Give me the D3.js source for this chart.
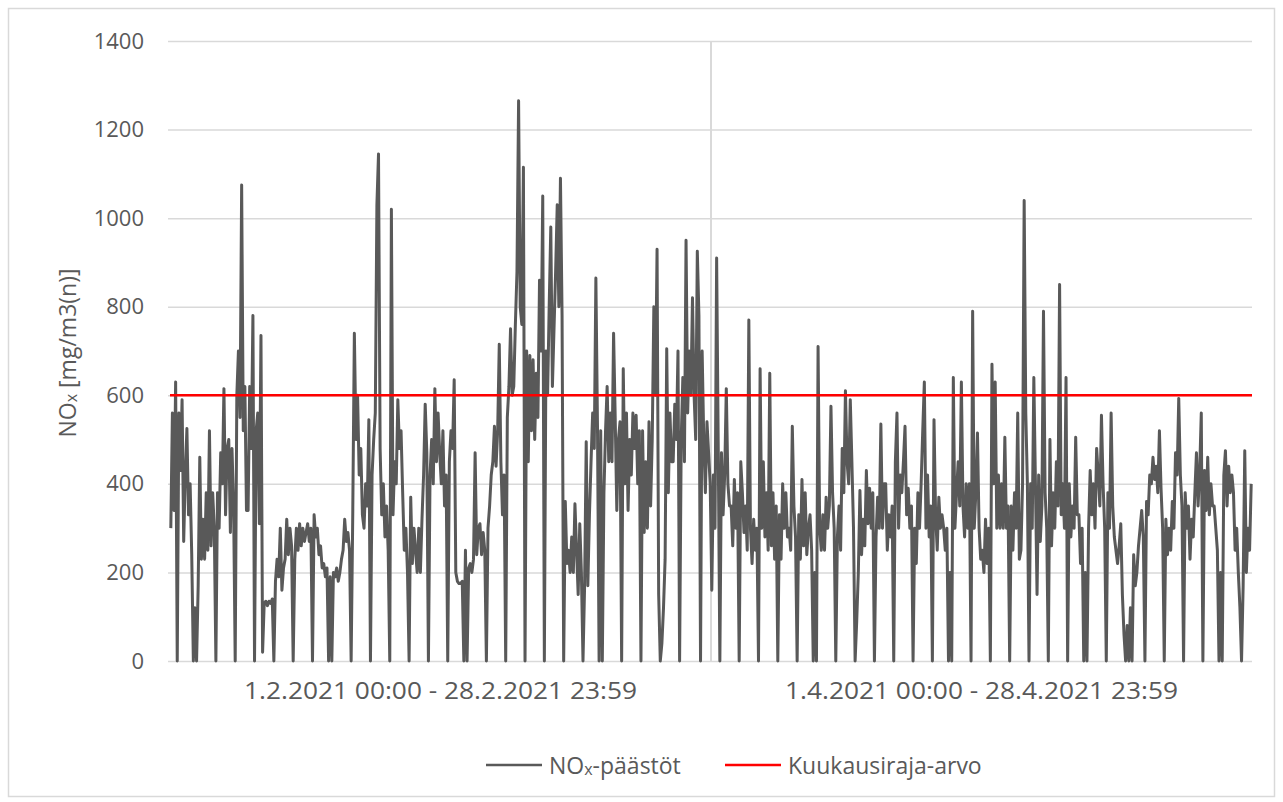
<!DOCTYPE html>
<html>
<head>
<meta charset="utf-8">
<script src="https://cdn.jsdelivr.net/npm/d3@7"></script>
<style>
  body { margin: 0; background: #ffffff; }
  text { font-family: "Open Sans", "Noto Sans", sans-serif; fill: #595959; }
</style>
</head>
<body>
<svg id="chart" width="1283" height="802"></svg>
<script>
// Two reporting periods shown side by side on the category axis
const categories = ["1.2.2021 00:00 - 28.2.2021 23:59", "1.4.2021 00:00 - 28.4.2021 23:59"];
const yTicks = [0, 200, 400, 600, 800, 1000, 1200, 1400];
const limitValue = 600; // monthly limit, mg/m3(n)

// NOx emissions, 2-hour readings, one row per day (12 readings)
const febValues = [
  300, 560, 340, 630, 0, 560, 430, 590, 270, 420, 525, 330,
  400, 240, 0, 120, 0, 170, 460, 230, 320, 230, 380, 250,
  520, 260, 380, 300, 0, 380, 300, 470, 400, 615, 330, 480,
  500, 290, 480, 350, 0, 600, 700, 550, 1075, 520, 620, 340,
  340, 620, 480, 780, 0, 520, 560, 310, 735, 20, 130, 135,
  125, 135, 130, 140, 0, 180, 230, 190, 300, 160, 210, 230,
  320, 240, 300, 260, 0, 230, 300, 250, 310, 260, 300, 270,
  290, 310, 270, 300, 0, 330, 280, 300, 240, 260, 210, 220,
  190, 210, 0, 190, 0, 200, 190, 210, 180, 200, 230, 250,
  320, 270, 290, 250, 0, 330, 740, 500, 600, 420, 480, 330,
  300, 400, 350, 545, 0, 420, 500, 560, 1030, 1145, 480, 330,
  400, 280, 350, 250, 0, 1020, 330, 450, 400, 590, 480, 520,
  380, 250, 300, 200, 0, 370, 220, 300, 250, 200, 300, 200,
  320, 420, 580, 470, 0, 420, 500, 400, 615, 450, 560, 470,
  400, 520, 350, 420, 0, 450, 520, 480, 635, 200, 180, 175,
  175, 180, 0, 250, 0, 210, 220, 200, 230, 470, 240, 300,
  310, 240, 290, 250, 0, 300, 350, 420, 450, 530, 440, 520,
  715, 450, 330, 420, 0, 550, 620, 750, 600, 620, 760, 880,
  1265, 800, 760, 1115, 0, 700, 450, 690, 520, 680, 500, 650,
  550, 860, 700, 1050, 0, 700, 600, 800, 980, 620, 750, 880,
  1030, 800, 1090, 780, 0, 360, 220, 250, 200, 280, 200, 355,
  250, 150, 310, 200, 0, 170, 495, 170, 330, 450, 560, 480,
  865, 530, 0, 520, 0, 380, 520, 620, 450, 560, 450, 740,
  550, 340, 500, 540, 0, 660, 400, 560, 340, 500, 420, 560,
  480, 555, 400, 520, 0, 520, 290, 450, 300, 540, 350, 500,
  800, 600, 930, 150, 0, 40, 120, 230, 705, 380, 560, 450,
  450, 580, 500, 700, 0, 500, 640, 450, 950, 560, 700, 600,
  820, 600, 500, 925, 780, 0, 700, 500, 380, 540, 470, 400
];
const aprValues = [
  160, 420, 300, 910, 480, 0, 470, 330, 420, 615, 400, 350,
  350, 260, 410, 300, 380, 0, 450, 380, 290, 350, 250, 770,
  300, 220, 320, 250, 300, 0, 660, 300, 450, 280, 380, 250,
  650, 260, 380, 230, 350, 0, 330, 230, 400, 300, 380, 280,
  300, 250, 530, 350, 280, 0, 330, 230, 410, 260, 380, 240,
  300, 330, 250, 0, 200, 0, 710, 300, 250, 330, 250, 370,
  300, 350, 575, 380, 300, 0, 280, 350, 250, 480, 380, 610,
  450, 400, 590, 450, 300, 0, 90, 200, 385, 240, 320, 260,
  430, 310, 390, 300, 380, 0, 280, 370, 300, 535, 300, 400,
  400, 250, 330, 280, 350, 0, 450, 560, 300, 420, 380, 450,
  530, 330, 390, 300, 350, 0, 300, 220, 380, 300, 400, 520,
  630, 300, 420, 280, 350, 0, 545, 330, 250, 370, 300, 330,
  300, 250, 300, 0, 200, 0, 640, 300, 380, 450, 350, 630,
  350, 280, 400, 300, 400, 0, 790, 300, 380, 515, 300, 230,
  250, 200, 320, 220, 300, 0, 670, 400, 630, 300, 420, 300,
  400, 300, 505, 300, 350, 0, 350, 250, 380, 300, 560, 230,
  250, 400, 1040, 560, 400, 0, 400, 300, 640, 400, 150, 420,
  270, 350, 790, 380, 300, 0, 500, 260, 380, 300, 450, 350,
  850, 330, 400, 300, 640, 0, 400, 280, 350, 300, 505, 330,
  330, 220, 300, 0, 200, 0, 300, 430, 330, 400, 300, 480,
  420, 350, 555, 400, 300, 0, 380, 300, 560, 350, 280, 250,
  220, 260, 310, 150, 60, 0, 80, 0, 120, 0, 240, 170,
  200, 260, 300, 340, 280, 0, 360, 330, 420, 400, 460, 410,
  440, 380, 520, 390, 300, 0, 320, 240, 300, 250, 360, 300,
  470, 420, 593, 420, 350, 0, 380, 300, 350, 230, 320, 280,
  380, 470, 350, 430, 560, 0, 430, 340, 460, 330, 400, 350,
  350, 300, 250, 0, 200, 0, 420, 475, 350, 440, 380, 420,
  380, 250, 300, 200, 120, 0, 170, 475, 200, 300, 250, 400
];

const emissions = febValues.concat(aprValues);

const W = 1283, H = 802;
const plot = { left: 170, right: 1252, top: 41, bottom: 661 };
const lineColor = "#595959";
const limitColor = "#ff0000";
const gridColor = "#d9d9d9";

const svg = d3.select("#chart");

// outer chart frame
svg.append("rect")
  .attr("x", 8.5).attr("y", 8.5)
  .attr("width", W - 17).attr("height", H - 14)
  .attr("fill", "#fff").attr("stroke", gridColor).attr("stroke-width", 1.5);

const y = d3.scaleLinear().domain([0, 1400]).range([plot.bottom, plot.top]);
const xCat = d3.scaleBand().domain(categories).range([plot.left, plot.right]);
const x = d3.scaleLinear().domain([-0.5, emissions.length - 0.5]).range([plot.left, plot.right]);

// horizontal gridlines + value labels
const yAxis = d3.axisLeft(y).tickValues(yTicks).tickFormat(d3.format("d"))
  .tickSize(-(plot.right - plot.left) - 2).tickPadding(24);
const gy = svg.append("g").attr("transform", `translate(${plot.left - 2},0)`).call(yAxis);
gy.select(".domain").remove();
gy.selectAll(".tick line").attr("stroke", gridColor).attr("stroke-width", 1.5)
  .attr("x1", 0).attr("x2", plot.right - plot.left + 2);
gy.selectAll(".tick text").attr("font-size", 22).attr("fill", lineColor)
  .style("font-family", '"Open Sans", sans-serif');

// divider between the two periods
const boundary = xCat(categories[1]);
svg.append("line")
  .attr("x1", boundary).attr("x2", boundary)
  .attr("y1", plot.top).attr("y2", plot.bottom)
  .attr("stroke", gridColor).attr("stroke-width", 2);

// category labels under the plot
svg.selectAll("text.cat").data(categories).join("text")
  .attr("class", "cat")
  .attr("x", d => xCat(d) + xCat.bandwidth() / 2)
  .attr("y", 689)
  .attr("text-anchor", "middle")
  .attr("dominant-baseline", "central")
  .attr("font-size", 24)
  .attr("textLength", 393)
  .attr("lengthAdjust", "spacingAndGlyphs")
  .text(d => d);

// emission series
const line = d3.line().x((d, i) => x(i)).y(d => y(d));
svg.append("path")
  .datum(emissions)
  .attr("d", line)
  .attr("fill", "none")
  .attr("stroke", lineColor)
  .attr("stroke-width", 3)
  .attr("stroke-linejoin", "round");

// monthly limit
svg.append("line")
  .attr("x1", plot.left).attr("x2", plot.right)
  .attr("y1", y(limitValue)).attr("y2", y(limitValue))
  .attr("stroke", limitColor)
  .attr("stroke-width", 2.6);

// y-axis title
const yt = svg.append("text")
  .attr("transform", `translate(67,${(plot.top + plot.bottom) / 2 + 2}) rotate(-90)`)
  .attr("text-anchor", "middle")
  .attr("dominant-baseline", "central")
  .attr("font-size", 23);
yt.append("tspan").text("NO");
yt.append("tspan").attr("font-size", 16).attr("dy", 4).text("x");
yt.append("tspan").attr("dy", -4).text(" [mg/m3(n)]");

// legend
const legendItems = [
  { base: "NO", sub: "x", rest: "-päästöt", color: lineColor, x0: 486 },
  { base: "Kuukausiraja-arvo", sub: "", rest: "", color: limitColor, x0: 725 }
];
const lg = svg.append("g");
legendItems.forEach(it => {
  lg.append("line").attr("x1", it.x0).attr("x2", it.x0 + 56)
    .attr("y1", 765).attr("y2", 765)
    .attr("stroke", it.color).attr("stroke-width", 2.6);
  const t = lg.append("text").attr("x", it.x0 + 63).attr("y", 765)
    .attr("dominant-baseline", "central").attr("font-size", 23);
  t.append("tspan").text(it.base);
  if (it.sub) {
    t.append("tspan").attr("font-size", 16).attr("dy", 4).text(it.sub);
    t.append("tspan").attr("dy", -4).text(it.rest);
  }
});
</script>
</body>
</html>
